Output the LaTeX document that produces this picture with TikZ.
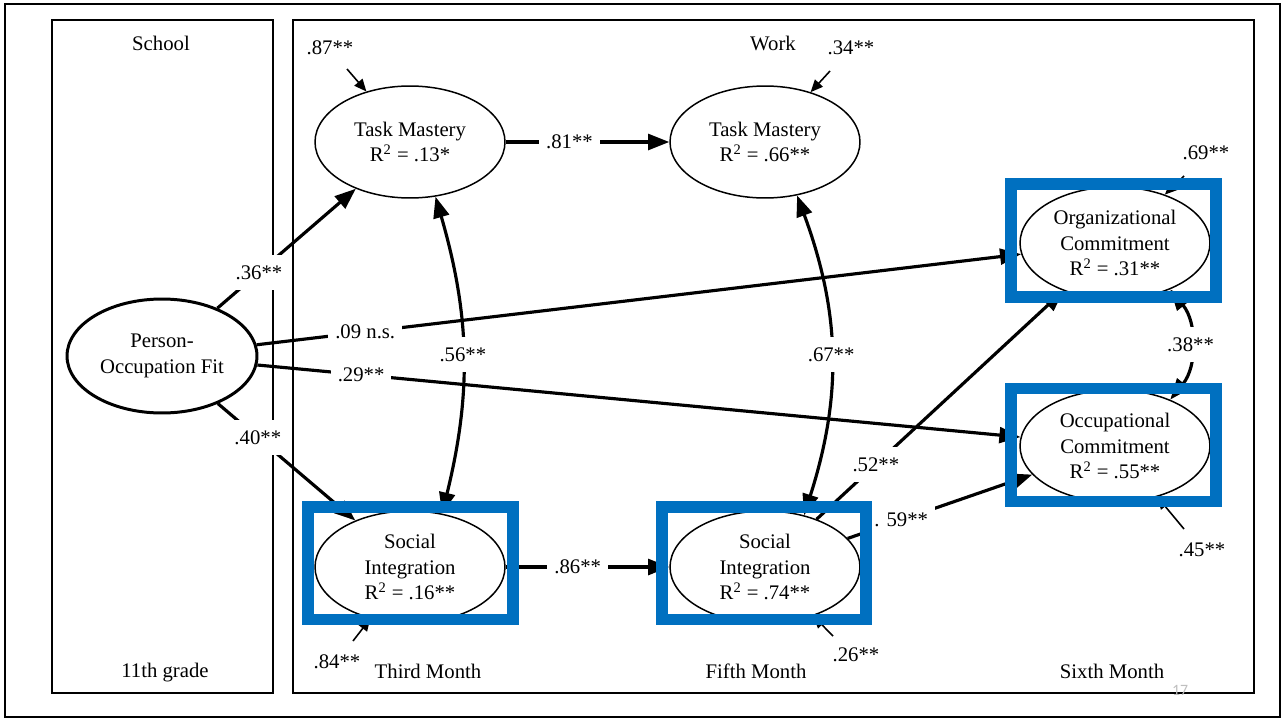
\documentclass[tikz,border=0pt]{standalone}
\usepackage{fontspec}
\setmainfont{Liberation Serif}
\newfontfamily\slidefont{Carlito}
\usetikzlibrary{arrows.meta,shapes.geometric,calc}
\definecolor{hlblue}{RGB}{0,112,192}
\begin{document}
\begin{tikzpicture}[x=0.02cm,y=-0.02cm,
  font=\fontsize{11.8}{14.7}\selectfont,
  lat/.style={ellipse,draw,line width=0.85pt,fill=white,minimum width=3.8cm,minimum height=2.24cm,inner sep=0pt,align=center},
  conn/.style={line width=1.8pt,-{Triangle[length=12pt,width=9pt]}},
  dconn/.style={line width=1.8pt,{Triangle[length=12pt,width=9pt]}-{Triangle[length=12pt,width=9pt]}},
  res/.style={line width=0.9pt,-{Triangle[length=7pt,width=6pt]}},
  lbl/.style={fill=white,inner xsep=4pt,inner ysep=6pt},
  txt/.style={inner sep=0pt},
  panel/.style={draw,line width=0.8pt},
  hl/.style={draw=hlblue,line width=6.8pt}
]
\useasboundingbox (0,0) rectangle (1284,720);
\draw[line width=1.2pt] (5,4) rectangle (1280,717);
\draw[panel] (52,20) rectangle (273,693);
\draw[panel] (293,20) rectangle (1254,693);

% headings
\node[txt] (school) at (161,43) {School};
\node[txt] (work) at (773,43) {Work};
\node[txt] (p11) at (165,673) {11th grade};
\node[txt] (p3) at (428,671) {Third Month};
\node[txt] (p5) at (756,671) {Fifth Month};
\node[txt] (p6) at (1112,671) {Sixth Month};
\node[txt,text=gray!50,font=\slidefont\fontsize{9}{10}\selectfont] (pg) at (1180,690) {17};

% latent variables
\node[lat] (tm1) at (410,142) {Task Mastery\\R\textsuperscript{2} = .13*};
\node[lat] (tm2) at (765,142) {Task Mastery\\R\textsuperscript{2} = .66**};
\node[lat] (org) at (1115,243) {Organizational\\Commitment\\R\textsuperscript{2} = .31**};
\node[lat] (occ) at (1115,446) {Occupational\\Commitment\\R\textsuperscript{2} = .55**};
\node[lat] (si1) at (410,567) {Social\\Integration\\R\textsuperscript{2} = .16**};
\node[lat] (si2) at (765,567) {Social\\Integration\\R\textsuperscript{2} = .74**};
\node[lat,line width=1.7pt,minimum height=2.28cm] (po) at (162,356) {Person-\\Occupation Fit};

% paths
\draw[conn] (po) -- node[lbl,pos=0.142] (l09) {.09 n.s.} (org);
\draw[conn] (po) -- node[lbl,pos=0.136] (l29) {.29**} (occ);
\draw[dconn] (tm1.-65) to[bend left=15] node[lbl,pos=0.5] (l56) {.56**} (si1.59);
\draw[dconn] (tm2.-59) to[bend left=19] node[lbl,pos=0.5] (l67) {.67**} (si2.53);
\draw[conn] (po) -- node[lbl,pos=0.30] (l36) {.36**} (tm1);
\draw[conn] (po) -- node[lbl,pos=0.29] (l40) {.40**} (si1);
\draw[conn] (tm1) -- node[lbl,pos=0.39] (l81) {.81**} (tm2);
\draw[conn] (si1) -- node[lbl,pos=0.44] (l86) {.86**} (si2);
\draw[conn] (si2) -- node[lbl,pos=0.24] (l52) {.52**} (org);
\draw[conn] (si2) -- node[lbl,pos=0.29] (l59) {. 59**} (occ);
\draw[dconn] (org.-40) to[bend left=39] node[lbl,pos=0.5] (l38) {.38**} (occ.40);

% residuals
\coordinate (t87) at (347,69);
\coordinate (t34) at (830,71);
\coordinate (t69) at (1184,176);
\coordinate (t45) at (1184,529);
\coordinate (t26) at (833,636);
\coordinate (t84) at (353,641);
\draw[res] (t87) -- (tm1);
\draw[res] (t34) -- (tm2);
\draw[res] (t69) -- (org);
\draw[res] (t45) -- (occ);
\draw[res] (t26) -- (si2);
\draw[res] (t84) -- (si1);
\node[txt] (r87) at (330,48) {.87**};
\node[txt] (r34) at (851,48) {.34**};
\node[txt] (r69) at (1206,153) {.69**};
\node[txt] (r45) at (1202,550) {.45**};
\node[txt] (r26) at (856,655) {.26**};
\node[txt] (r84) at (337,662) {.84**};

% highlight frames
\draw[hl] ($(org)+(-104,-59)$) rectangle ($(org)+(101,54)$);
\draw[hl] ($(occ)+(-104,-57.5)$) rectangle ($(occ)+(101,55.5)$);
\draw[hl] ($(si1)+(-102,-60)$) rectangle ($(si1)+(103,52.5)$);
\draw[hl] ($(si2)+(-103,-60)$) rectangle ($(si2)+(101,52.5)$);
\end{tikzpicture}
\end{document}
